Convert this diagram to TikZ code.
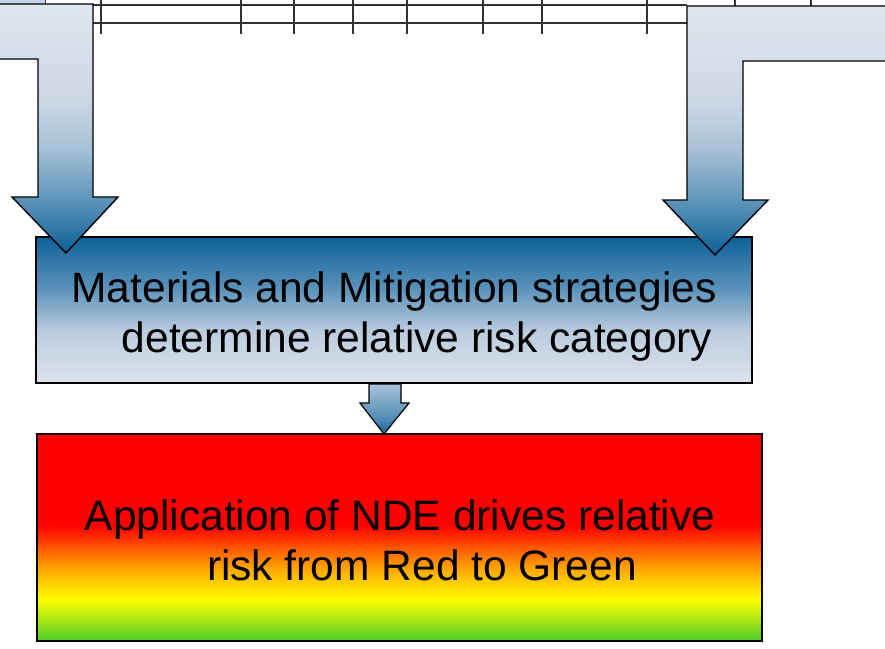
\documentclass[tikz,border=0pt]{standalone}
\usepackage{fontspec}
\setmainfont{Liberation Sans}
\definecolor{ab1}{HTML}{DFE5EE}
\definecolor{ab2}{HTML}{CDD8E5}
\definecolor{ab3}{HTML}{A6C0D6}
\definecolor{ab4}{HTML}{5E96BC}
\definecolor{ab5}{HTML}{0B5F95}
\definecolor{sm1}{HTML}{A9C3D9}
\definecolor{sm2}{HTML}{4F8BB5}
\definecolor{sm3}{HTML}{0F6399}
\definecolor{md1}{HTML}{DDE3EC}
\definecolor{md2}{HTML}{BCCDDE}
\definecolor{md3}{HTML}{5A92BB}
\definecolor{md4}{HTML}{0D6198}
\definecolor{bgreen}{HTML}{4CCB2A}
\definecolor{byellow}{HTML}{FFFF00}
\definecolor{borange}{HTML}{FFA000}
\definecolor{bredor}{HTML}{FF6000}
\definecolor{bred}{HTML}{FF0000}
\definecolor{tline}{HTML}{333333}
\definecolor{cellblue}{HTML}{C5D6EE}
\pgfdeclareverticalshading{arrowshade}{100bp}{color(0bp)=(ab5); color(25bp)=(ab5); color(36bp)=(ab4); color(46bp)=(ab3); color(56bp)=(ab2); color(75bp)=(ab1); color(100bp)=(ab1)}
\pgfdeclareverticalshading{smallshade}{100bp}{color(0bp)=(sm3); color(25bp)=(sm3); color(40bp)=(sm2); color(75bp)=(sm1); color(100bp)=(sm1)}
\pgfdeclareverticalshading{midshade}{100bp}{color(0bp)=(md1); color(25bp)=(md1); color(42.5bp)=(md2); color(57.5bp)=(md3); color(75bp)=(md4); color(100bp)=(md4)}
\pgfdeclareverticalshading{botshade}{100bp}{color(0bp)=(bgreen); color(25bp)=(bgreen); color(35bp)=(byellow); color(43bp)=(borange); color(47bp)=(bredor); color(53bp)=(bred); color(75bp)=(bred); color(100bp)=(bred)}
\begin{document}
\begin{tikzpicture}[x=1pt,y=-1pt,
  tl/.style={draw=tline,line width=1.2pt},
  blockarrow/.style={draw=black,line width=1.4pt,line join=miter,shading=arrowshade},
  smallarrow/.style={draw=black,line width=1.2pt,line join=miter,shading=smallshade},
  bigtext/.style={anchor=base,inner sep=0pt,font=\fontsize{42.5}{50}\selectfont}]
\useasboundingbox (0,0) rectangle (885,648);
\clip (0,0) rectangle (885,648);
% table fragment
\draw[tl] (93,5) -- (687,5);
\draw[tl] (93,23) -- (687,23);
\foreach \x in {101,241,294,353,407,483,542,647}{\draw[tl] (\x,-2) -- (\x,34);}
\foreach \x in {735,811}{\draw[tl] (\x,-2) -- (\x,6);}
\draw[draw=tline,line width=1pt,fill=cellblue] (-3,-3) rectangle (45,4);
% middle box
\node[draw=black,line width=1.2pt,shading=midshade,minimum width=716pt,minimum height=146pt,inner sep=0pt] (mid) at (394,310) {};
% bottom box
\node[draw=black,line width=1.2pt,shading=botshade,minimum width=725pt,minimum height=207pt,inner sep=0pt] (bot) at (399.5,537.5) {};
% left bent arrow
\draw[blockarrow] (-4,4) -- (93,4) -- (93,197) -- (118,197) -- (66,253) -- (12,197) -- (38,197) -- (38,59) -- (-4,59) -- cycle;
% right bent arrow
\draw[blockarrow] (687,6) -- (889,6) -- (889,61) -- (743,61) -- (743,200) -- (768,200) -- (715,255) -- (663,200) -- (687,200) -- cycle;
% small arrow between boxes
\draw[smallarrow] (369,384) -- (401,384) -- (401,403) -- (409,403) -- (384,434) -- (360,403) -- (369,403) -- cycle;
% texts
\node[bigtext] (t1) at (394,302) {Materials and Mitigation strategies};
\node[bigtext] (t2) at (417,352) {determine relative risk category};
\node[bigtext] (t3) at (400,530) {Application of NDE drives relative};
\node[bigtext] (t4) at (422,580) {risk from Red to Green};
\end{tikzpicture}
\end{document}
